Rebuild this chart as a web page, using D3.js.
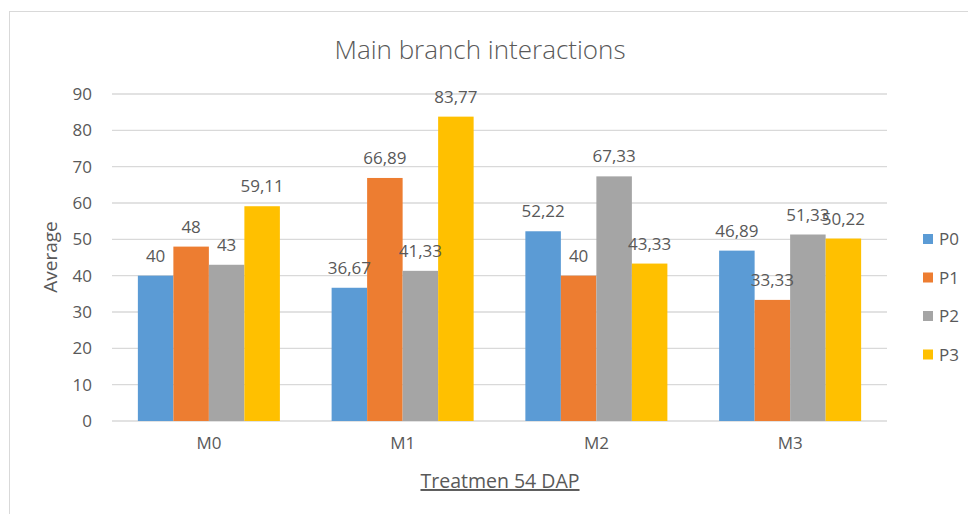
<!DOCTYPE html>
<html>
<head>
<meta charset="utf-8">
<script src="https://cdn.jsdelivr.net/npm/d3@7"></script>
<style>
    body { margin: 0; background: #fff; }
    text { font-family: "Open Sans", sans-serif; fill: #595959; }
</style>
</head>
<body>
<svg id="chart" width="968" height="514"></svg>
<script>
const CATEGORIES = ["M0", "M1", "M2", "M3"];
const SERIES = ["P0", "P1", "P2", "P3"];
const P0 = [40, 36.67, 52.22, 46.89];
const P1 = [48, 66.89, 40, 33.33];
const P2 = [43, 41.33, 67.33, 51.33];
const P3 = [59.11, 83.77, 43.33, 50.22];
const Y_TICKS = [0, 10, 20, 30, 40, 50, 60, 70, 80, 90];
const COLORS = ["#5B9BD5", "#ED7D31", "#A5A5A5", "#FFC000"];

const values = [P0, P1, P2, P3];
const plot = { left: 112, right: 887, top: 94, bottom: 421 };

const svg = d3.select("#chart");

// chart frame
svg.append("rect")
    .attr("x", 9.5).attr("y", 11.5)
    .attr("width", 1000).attr("height", 600)
    .attr("fill", "none")
    .attr("stroke", "#d9d9d9");

const x = d3.scaleBand()
    .domain(CATEGORIES)
    .range([plot.left, plot.right])
    .paddingInner(0.267)
    .paddingOuter(0.1335);

const xs = d3.scaleBand()
    .domain(SERIES)
    .range([0, x.bandwidth()]);

const y = d3.scaleLinear()
    .domain([0, 90])
    .range([plot.bottom, plot.top]);

// gridlines
svg.append("g")
    .selectAll("line")
    .data(Y_TICKS)
    .join("line")
    .attr("x1", plot.left).attr("x2", plot.right)
    .attr("y1", d => y(d)).attr("y2", d => y(d))
    .attr("stroke", "#d9d9d9")
    .attr("stroke-width", 1.3);

// y axis
const yAxis = svg.append("g")
    .attr("transform", `translate(${plot.left},0)`)
    .call(d3.axisLeft(y).tickValues(Y_TICKS).tickSize(0).tickPadding(20));
yAxis.select(".domain").remove();
yAxis.selectAll("text")
    .attr("font-size", 17)
    .attr("fill", "#595959")
    .style("font-family", "'Open Sans', sans-serif");

// x axis labels
const xAxis = svg.append("g")
    .attr("transform", `translate(0,${plot.bottom})`)
    .call(d3.axisBottom(x).tickSize(0).tickPadding(16));
xAxis.select(".domain").remove();
xAxis.selectAll("text")
    .attr("font-size", 17)
    .attr("fill", "#595959")
    .style("font-family", "'Open Sans', sans-serif");

// bars
const groups = svg.append("g")
    .selectAll("g")
    .data(CATEGORIES)
    .join("g")
    .attr("transform", d => `translate(${x(d)},0)`);

groups.selectAll("rect")
    .data((c, ci) => SERIES.map((s, si) => ({ s, si, v: values[si][ci] })))
    .join("rect")
    .attr("x", d => xs(d.s))
    .attr("width", xs.bandwidth())
    .attr("y", d => y(d.v))
    .attr("height", d => y(0) - y(d.v))
    .attr("fill", d => COLORS[d.si]);

// data labels
groups.selectAll("text")
    .data((c, ci) => SERIES.map((s, si) => ({ s, si, v: values[si][ci] })))
    .join("text")
    .attr("x", d => xs(d.s) + xs.bandwidth() / 2)
    .attr("y", d => y(d.v) - 14)
    .attr("text-anchor", "middle")
    .attr("font-size", 17)
    .text(d => String(d.v).replace(".", ","));

// title
svg.append("text")
    .attr("x", 480).attr("y", 59)
    .attr("text-anchor", "middle")
    .attr("font-size", 26)
    .attr("font-weight", 300)
    .text("Main branch interactions");

// axis titles
svg.append("text")
    .attr("transform", "translate(57,257) rotate(-90)")
    .attr("text-anchor", "middle")
    .attr("font-size", 19)
    .text("Average");

svg.append("text")
    .attr("x", 500).attr("y", 488)
    .attr("text-anchor", "middle")
    .attr("font-size", 19.5)
    .attr("text-decoration", "underline")
    .text("Treatmen 54 DAP");

// legend
const legend = svg.append("g")
    .selectAll("g")
    .data(SERIES)
    .join("g")
    .attr("transform", (d, i) => `translate(923,${239 + i * 38.5})`);

legend.append("rect")
    .attr("y", -5)
    .attr("width", 10).attr("height", 10)
    .attr("fill", (d, i) => COLORS[i]);

legend.append("text")
    .attr("x", 16).attr("y", 6)
    .attr("font-size", 17)
    .text(d => d);
</script>
</body>
</html>
